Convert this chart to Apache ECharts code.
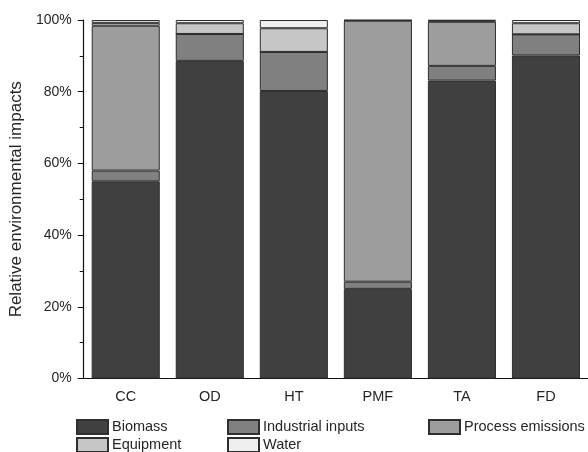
<!DOCTYPE html>
<html>
<head>
<meta charset="utf-8">
<script src="https://cdn.jsdelivr.net/npm/echarts@6/dist/echarts.min.js"></script>
<style>
  html, body { margin: 0; padding: 0; background: #fff; }
  #chart { width: 588px; height: 452px; }
</style>
</head>
<body>
<div id="chart"></div>
<script>
  // categories and shares (%)
  var categories = ['CC', 'OD', 'HT', 'PMF', 'TA', 'FD'];
  var biomass = [55, 88.6, 80.2, 25, 83.1, 90.1];
  var industrialInputs = [3, 7.5, 10.9, 2, 4.1, 5.9];
  var processEmissions = [40.4, 0, 0, 72.8, 12.3, 0];
  var equipment = [0.8, 3, 6.6, 0.1, 0.3, 3.1];
  var water = [0.8, 0.9, 2.3, 0.1, 0.2, 0.9];
  var yTicks = [0, 20, 40, 60, 80, 100];

  var seriesDefs = [
    { name: 'Biomass', data: biomass, color: '#404040' },
    { name: 'Industrial inputs', data: industrialInputs, color: '#808080' },
    { name: 'Process emissions', data: processEmissions, color: '#9d9d9d' },
    { name: 'Equipment', data: equipment, color: '#c6c6c6' },
    { name: 'Water', data: water, color: '#efefef' }
  ];

  var font = '"Liberation Sans", Arial, sans-serif';
  var txt = '#262626';

  var chart = echarts.init(document.getElementById('chart'));

  var series = seriesDefs.map(function (s) {
    return {
      name: s.name,
      type: 'bar',
      stack: 'all',
      data: s.data,
      barCategoryGap: '19%',
      itemStyle: { color: s.color, borderColor: '#2e2e2e', borderWidth: 1 },
      emphasis: { disabled: true }
    };
  });

  // one legend per item so the columns line up like the original
  var legendPos = [
    { name: 'Biomass', left: 76, top: 419 },
    { name: 'Industrial inputs', left: 227, top: 419 },
    { name: 'Process emissions', left: 428, top: 419 },
    { name: 'Equipment', left: 76, top: 437 },
    { name: 'Water', left: 227, top: 437 }
  ];
  var legends = legendPos.map(function (p) {
    return {
      data: [{ name: p.name, icon: 'rect' }],
      left: p.left,
      top: p.top,
      padding: 0,
      itemWidth: 31,
      itemHeight: 14,
      selectedMode: false,
      textStyle: { fontFamily: font, fontSize: 14.5, color: txt, padding: [0, 0, 0, -1] }
    };
  });

  chart.setOption({
    animation: false,
    backgroundColor: '#fff',
    grid: { left: 83, top: 20, width: 510, height: 358.5 },
    legend: legends,
    xAxis: [
      {
        type: 'category',
        data: categories,
        axisLine: { lineStyle: { color: '#111', width: 1.2 } },
        axisTick: { length: 4, lineStyle: { color: '#111' } },
        axisLabel: { fontFamily: font, fontSize: 14.5, color: txt, margin: 11 }
      },
      {
        type: 'category',
        data: categories,
        position: 'bottom',
        gridIndex: 0,
        axisLine: { show: false },
        axisTick: { alignWithLabel: true, length: 6, lineStyle: { color: '#111' } },
        axisLabel: { show: false }
      }
    ],
    yAxis: {
      type: 'value',
      min: yTicks[0],
      max: yTicks[yTicks.length - 1],
      interval: 20,
      name: 'Relative environmental impacts',
      nameLocation: 'middle',
      nameGap: 57,
      nameTextStyle: { fontFamily: font, fontSize: 17, color: txt },
      axisLine: { show: true, lineStyle: { color: '#111', width: 1.2 } },
      axisTick: { show: true, length: 6, lineStyle: { color: '#111' } },
      minorTick: { show: true, splitNumber: 2, length: 4, lineStyle: { color: '#111' } },
      splitLine: { show: false },
      axisLabel: {
        fontFamily: font, fontSize: 14, color: txt, margin: 12,
        formatter: function (v) { return v + '%'; }
      }
    },
    series: series
  });
</script>
</body>
</html>
